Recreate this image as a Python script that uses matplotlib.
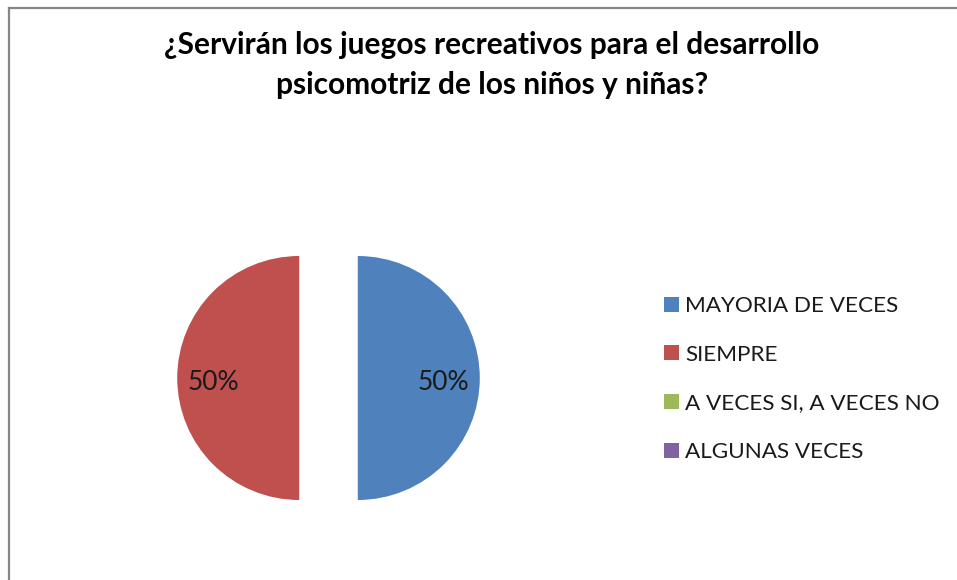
import matplotlib
matplotlib.use("Agg")
import matplotlib.pyplot as plt
from matplotlib.lines import Line2D
from matplotlib.patches import Patch

# data
categories = ["MAYORIA DE VECES", "SIEMPRE", "A VECES SI, A VECES NO", "ALGUNAS VECES"]
values = [50, 50, 0, 0]
colors = ["#4F81BD", "#C0504D", "#9BBB59", "#8064A2"]
title = "¿Servirán los juegos recreativos para el desarrollo\npsicomotriz de los niños y niñas?"

W, H = 957, 580
fig = plt.figure(figsize=(W / 100, H / 100), dpi=100)
fig.patch.set_facecolor("white")

# chart border (cut off at right and bottom like the original)
fig.add_artist(Line2D([8.5 / W, 1], [1 - 7.5 / H, 1 - 7.5 / H], color="#868686", lw=1.6))
fig.add_artist(Line2D([8.5 / W, 8.5 / W], [0, 1 - 7.5 / H], color="#868686", lw=1.6))

fig.text(492 / W, 1 - 65 / H, title, ha="center", va="center", fontsize=21.5,
         fontweight="bold", family="Lato", color="black", linespacing=1.55)

# pie: radius 1 -> 122 px, axes spans 3 radii
r_px = 122
cx, cy = 328.5, 378
side = 3 * r_px
ax = fig.add_axes([(cx - side / 2) / W, (H - cy - side / 2) / H, side / W, side / H])
ax.axis("off")

wedges, texts, autotexts = ax.pie(
    values, colors=colors, startangle=90, counterclock=False,
    explode=[0.24, 0.24, 0, 0], radius=1,
    autopct=lambda p: "{:.0f}%".format(p) if p > 0 else "",
    pctdistance=0.7, wedgeprops=dict(linewidth=0),
    textprops=dict(fontsize=19, family="Lato", color="#1a1a1a"))
ax.set_xlim(-1.5, 1.5)
ax.set_ylim(-1.5, 1.5)
for t in autotexts:
    t.set_y(t.get_position()[1] - 0.04)

handles = [Patch(facecolor=c, edgecolor="none") for c in colors]
fig.legend(handles, categories, loc="upper left", bbox_to_anchor=(653 / W, 1 - 285 / H),
           frameon=False, prop=dict(family="Lato", size=16.2), handlelength=0.65,
           handleheight=0.65, handletextpad=0.27, labelspacing=1.27, borderpad=0,
           labelcolor="#1a1a1a")

plt.savefig("out.png", dpi=100)
